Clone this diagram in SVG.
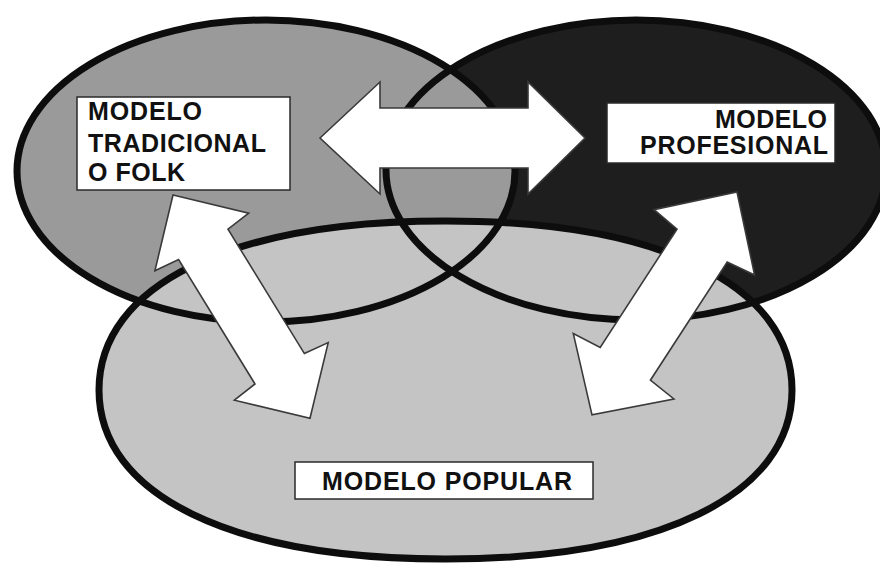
<svg xmlns="http://www.w3.org/2000/svg" width="880" height="568" viewBox="0 0 880 568">
<style>
.outline{fill:none;stroke:#0d0d0d;stroke-width:7}
.box{fill:#ffffff;stroke:#2a2a2a;stroke-width:1.5}
.lbl{font-family:"Liberation Sans",Arial,Helvetica,sans-serif;font-weight:bold;font-size:25px;fill:#111111}
.arrow{fill:#ffffff;stroke:#3a3a3a;stroke-width:1.6;stroke-linejoin:miter}
</style>
<rect x="0" y="0" width="880" height="568" fill="#ffffff"/>
<g id="fills">
<ellipse cx="636" cy="170" rx="250" ry="150" fill="#1e1e1e"/>
<ellipse cx="266" cy="171" rx="249" ry="151" fill="#9a9a9a"/>
<path d="M 99 390 C 99 285.2, 230.7 221, 445.5 221 C 660.3 221, 792 285.2, 792 390 C 792 494.8, 660.3 559, 445.5 559 C 230.7 559, 99 494.8, 99 390 Z" fill="#c4c4c4"/>
</g>
<g id="node-tradicional">
<ellipse class="outline" cx="266" cy="171" rx="249" ry="151"/>
<rect class="box" x="77" y="97" width="213" height="93"/>
<text class="lbl" x="88" y="120" textLength="114" lengthAdjust="spacing">MODELO</text>
<text class="lbl" x="88" y="152" textLength="178" lengthAdjust="spacing">TRADICIONAL</text>
<text class="lbl" x="88" y="181" textLength="97" lengthAdjust="spacing">O FOLK</text>
</g>
<g id="node-profesional">
<ellipse class="outline" cx="636" cy="170" rx="250" ry="150"/>
<rect class="box" x="607" y="103" width="228" height="60"/>
<text class="lbl" x="715" y="128" textLength="112" lengthAdjust="spacing">MODELO</text>
<text class="lbl" x="640" y="154" textLength="188" lengthAdjust="spacing">PROFESIONAL</text>
</g>
<g id="node-popular">
<path class="outline" d="M 99 390 C 99 285.2, 230.7 221, 445.5 221 C 660.3 221, 792 285.2, 792 390 C 792 494.8, 660.3 559, 445.5 559 C 230.7 559, 99 494.8, 99 390 Z"/>
<rect class="box" x="295" y="462" width="298" height="37"/>
<text class="lbl" x="322" y="490" textLength="250" lengthAdjust="spacing">MODELO POPULAR</text>
</g>
<g id="connectors">
<polygon class="arrow" points="320,138 380,82 380,108 528,108 528,82 585,138 528,194 528,168 380,168 380,194"/>
<polygon class="arrow" points="173,195 248.7,213.1 228,229.2 304.4,353.6 328.2,342.6 310,418.2 234.4,400.2 255,384 178.6,259.6 154.9,270.7"/>
<polygon class="arrow" points="737,192 754.6,275 727.2,262 650.4,380.2 673.9,399 592,414.9 573.3,333.6 600.2,347.4 677,229.2 654,209.6"/>
</g>
</svg>
